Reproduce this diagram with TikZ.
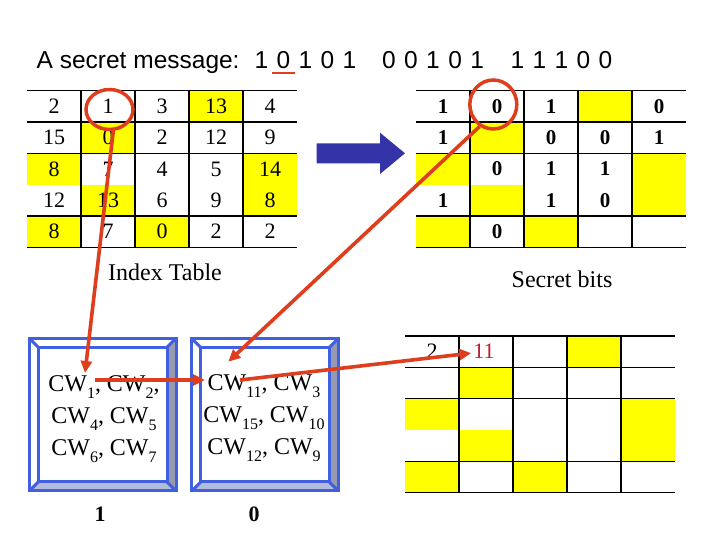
\documentclass[tikz,border=0pt]{standalone}
\usepackage{fontspec}
\setmainfont{Liberation Serif}
\newfontfamily\titlefont{Liberation Sans}
\usetikzlibrary{positioning,calc,shapes.geometric,arrows.meta}

\definecolor{hired}{RGB}{222,62,30}
\definecolor{cellyellow}{RGB}{255,255,0}
\definecolor{frameblue}{RGB}{64,96,224}
\definecolor{arrowblue}{RGB}{52,52,168}
\definecolor{bevelside}{RGB}{150,154,176}
\definecolor{bevelfoot}{RGB}{180,188,222}
\definecolor{darkred}{RGB}{190,30,45}

\newcommand{\bitgap}{\hspace{8.4pt}}
\newcommand{\cw}[1]{CW\raisebox{-7pt}{\fontsize{16}{16}\selectfont #1}}

% yellow cells and rules of a 5x5 table, #1 = left x, #2 = top y
\newcommand{\tablegrid}[2]{%
  \foreach \ri/\ci in {1/4,2/2,3/1,3/5,4/2,4/5,5/1,5/3}
    \fill[cellyellow] (#1+\ci*54-54,#2-\ri*31.3+31.3) rectangle ++(54,-31.3);
  \foreach \k in {0,1,2,4,5}
    \draw[gridrule] (#1,#2-\k*31.3) -- ++(270,0);
  \foreach \k in {1,...,4}
    \draw[gridrule] (#1+\k*54,#2) -- ++(0,-156.5);
}

% bevelled frame round a box node
\newcommand{\bevelframe}[1]{%
  \coordinate (#1-ine) at ($(#1.north east)+(-9,-9)$);
  \coordinate (#1-ise) at ($(#1.south east)+(-9,9)$);
  \coordinate (#1-isw) at ($(#1.south west)+(9,9)$);
  \coordinate (#1-inw) at ($(#1.north west)+(9,-9)$);
  \fill[bevelside] (#1.north east) -- (#1.south east) -- (#1-ise) -- (#1-ine) -- cycle;
  \fill[bevelfoot] (#1.south west) -- (#1.south east) -- (#1-ise) -- (#1-isw) -- cycle;
  \draw[frame] (#1.south west) rectangle (#1.north east);
  \draw[frame] (#1-isw) rectangle (#1-ine);
  \draw[frame] (#1.north west) -- (#1-inw) (#1.north east) -- (#1-ine)
    (#1.south east) -- (#1-ise) (#1.south west) -- (#1-isw);
}

\tikzset{
  gridrule/.style={draw=black, line width=1.3pt},
  frame/.style={draw=frameblue, line width=3pt, line join=miter},
  title/.style={font=\titlefont\fontsize{24.5}{28}\selectfont, inner sep=0pt, anchor=base west},
  idxcell/.style={font=\fontsize{22}{26}\selectfont, inner sep=0pt},
  bitcell/.style={font=\fontsize{21}{25}\selectfont\bfseries, inner sep=0pt},
  tablelabel/.style={font=\fontsize{24}{28}\selectfont},
  bitlabel/.style={font=\fontsize{22}{26}\selectfont\bfseries},
  cwbox/.style={minimum width=146.7pt, minimum height=152.7pt, inner sep=0pt, outer sep=0pt},
  cwtext/.style={font=\fontsize{24}{32}\selectfont, align=center, inner sep=0pt},
  ring/.style={draw=hired, line width=3.5pt, ellipse, inner sep=0pt},
  redarrow/.style={draw=hired, line width=3.6pt, -{Triangle[length=12pt,width=11pt]}}
}

\begin{document}
\begin{tikzpicture}[x=1pt, y=1pt]
  \fill[white] (0,0) rectangle (720,540);
  \useasboundingbox (0,0) rectangle (720,540);
  % Title
  \node[title] (msg) at (36.5,471.7) {A secret message:};
  \node[title] (grpA) at (254.4,471.7) {1\bitgap\makebox[0pt][l]{\hspace{-4.4pt}\textcolor{hired}{\rule[-6pt]{23pt}{2.6pt}}}0\bitgap 1\bitgap 0\bitgap 1};
  \node[title] (grpB) at (382,471.7) {0\bitgap 0\bitgap 1\bitgap 0\bitgap 1};
  \node[title] (grpC) at (510.4,471.7) {1\bitgap 1\bitgap 1\bitgap 0\bitgap 0};
  % Tables
  \tablegrid{27}{449.3}
  \tablegrid{416}{449.3}
  \tablegrid{405}{204}
  \foreach \rowvals [count=\ri] in {{2,1,3,13,4},{15,0,2,12,9},{8,7,4,5,14},{12,13,6,9,8},{8,7,0,2,2}}
    \foreach \v [count=\ci] in \rowvals
      \node[idxcell] (idx-\ri-\ci) at (\ci*54, 449.3-\ri*31.3+15.65) {\v};
  \foreach \ri/\ci/\v in {1/1/1,1/2/0,1/3/1,1/5/0,2/1/1,2/3/0,2/4/0,2/5/1,
                          3/2/0,3/3/1,3/4/1,4/1/1,4/3/1,4/4/0,5/2/0}
    \node[bitcell] (sec-\ri-\ci) at (389+\ci*54, 449.3-\ri*31.3+15.65) {\v};
  \node[idxcell] (dec-1-1) at (432,188.35) {2};
  \node[idxcell, text=darkred, inner sep=2pt] (eleven) at (484,188.35) {11};
  \node[tablelabel] (idxlabel) at (165,268) {Index Table};
  \node[tablelabel] (seclabel) at (562,261) {Secret bits};
  % Blue arrow
  \fill[arrowblue] (316.7,396.7) -- (380,396.7) -- (380,407.3) -- (405,386.7)
    -- (380,366) -- (380,376.7) -- (316.7,376.7) -- cycle;
  % Codeword boxes
  \node[cwbox] (boxA) at (102.65,125.35) {};
  \node[cwbox] (boxB) at (265,125.35) {};
  \bevelframe{boxA}
  \bevelframe{boxB}
  \node[cwtext] (listA) at (104,120.5) {\cw{1}, \cw{2},\\ \cw{4}, \cw{5}\\ \cw{6}, \cw{7}};
  \node[cwtext] (listB) at (264,122) {\cw{11}, \cw{3}\\ \cw{15}, \cw{10}\\ \cw{12}, \cw{9}};
  \node[bitlabel] (bitA) at (100,26) {1};
  \node[bitlabel] (bitB) at (254,26) {0};
  % Rings
  \node[ring, minimum width=47pt, minimum height=40pt] (idxring) at (109.5,430.5) {};
  \node[ring, minimum width=47pt, minimum height=49pt] (secring) at (493.3,435.5) {};
  % Arrows
  \coordinate (tipA) at (85,167);
  \coordinate (tipB) at (228.3,178.3);
  \coordinate (fromA) at (95,160);
  \coordinate (toB) at (205,160);
  \coordinate (fromB) at (240,160);
  \draw[redarrow] (idxring.-80) -- (tipA);
  \draw[redarrow] (secring.-122) -- (tipB);
  \draw[redarrow] (fromA) -- (toB);
  \draw[redarrow] (fromB) -- (eleven);
\end{tikzpicture}
\end{document}
